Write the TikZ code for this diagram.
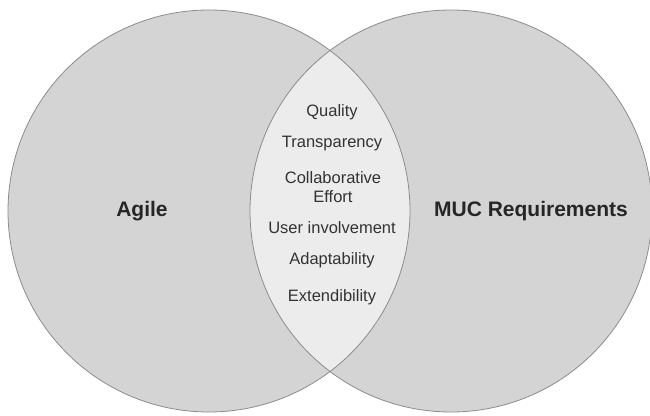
\documentclass[tikz,border=0pt]{standalone}
\usepackage{fontspec}
\setmainfont{Liberation Sans}
\definecolor{setgray}{HTML}{D4D4D4}
\definecolor{lensgray}{HTML}{ECECEC}
\definecolor{rimgray}{HTML}{8C8C8C}
\definecolor{txtgray}{HTML}{333333}
\begin{document}
\begin{tikzpicture}
[x=1pt,y=1pt,
 setlabel/.style={font=\fontsize{21}{25}\selectfont\bfseries,color=black!85},
 itemlabel/.style={font=\fontsize{16.5}{19}\selectfont,color=txtgray,align=center}]
\useasboundingbox (0,0) rectangle (650,415);
\coordinate (cl) at (209,204);
\coordinate (cr) at (451,204);
\fill[setgray] (cl) circle [radius=201];
\fill[setgray] (cr) circle [radius=201];
\begin{scope}
\clip (cl) circle [radius=201];
\fill[lensgray] (cr) circle [radius=201];
\end{scope}
\draw[rimgray,line width=0.8pt] (cl) circle [radius=201];
\draw[rimgray,line width=0.8pt] (cr) circle [radius=201];
\node [setlabel] (agile) at (142,204) {Agile};
\node [setlabel] (muc) at (531,204) {MUC Requirements};
\node [itemlabel] (quality) at (332,303) {Quality};
\node [itemlabel] (transp) at (332,271) {Transparency};
\node [itemlabel] (collab) at (333,228) {Collaborative\\Effort};
\node [itemlabel] (user) at (332,187) {User involvement};
\node [itemlabel] (adapt) at (332,155) {Adaptability};
\node [itemlabel] (extend) at (332,118) {Extendibility};
\end{tikzpicture}
\end{document}
